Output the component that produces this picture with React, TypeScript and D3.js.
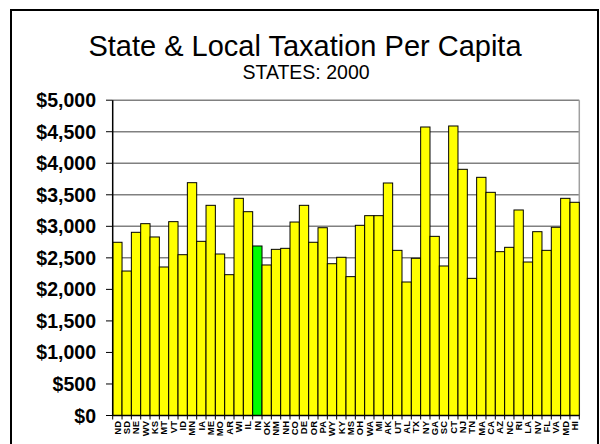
import React from "react";
import * as d3 from "d3";

const states = ["ND","SD","NE","WV","KS","MT","VT","ID","MN","IA","ME","MO","AR","WI","IL","IN","OK","NM","NH","CO","DE","OR","PA","WY","KY","MS","OH","WA","MI","AK","UT","AL","TX","NY","GA","SC","CT","NJ","TN","MA","CA","AZ","NC","RI","LA","NV","FL","VA","MD","HI"];
const taxPerCapita = [2747,2291,2905,3042,2831,2355,3074,2550,3692,2762,3333,2561,2233,3444,3232,2688,2387,2635,2651,3068,3333,2747,2978,2407,2509,2202,3016,3169,3169,3687,2619,2117,2493,4575,2841,2371,4591,3904,2175,3777,3539,2598,2667,3259,2434,2915,2619,2985,3444,3381];
const highlighted = ["IN"];
const yTicks = [0,500,1000,1500,2000,2500,3000,3500,4000,4500,5000];
const titleText = "State & Local Taxation Per Capita";
const subtitleText = "STATES: 2000";

const W = 600, H = 444;
const L = 112.7, R = 579.3, T = 100.2, B = 415.5;

export default function App() {
  const x = d3.scaleBand<string>().domain(states).range([L, R]).padding(0);
  const y = d3.scaleLinear().domain([0, 5000]).range([B, T]);
  const fmt = (v: number) => "$" + d3.format(",")(v);
  const font = "'Liberation Sans', Arial, sans-serif";
  return (
    <svg width={W} height={H} style={{ position: "fixed", left: 0, top: 0, background: "#fff" }} fontFamily={font}>
      <rect x={0} y={0} width={W} height={H} fill="#fff" />
      <rect x={11} y={10} width={587} height={460} fill="none" stroke="#000" strokeWidth={2} />
      <text x={305} y={56} textAnchor="middle" fontSize={29}>{titleText}</text>
      <text x={306} y={79} textAnchor="middle" fontSize={19.5}>{subtitleText}</text>
      {yTicks.filter(t => t > 0).map(t => (
        <line key={"g" + t} x1={L} x2={R} y1={y(t)} y2={y(t)} stroke="#808080" strokeWidth={1.5} />
      ))}
      <line x1={R} x2={R} y1={T} y2={B} stroke="#a0a0a0" strokeWidth={1.5} />
      {states.map((s, i) => (
        <rect key={s} x={x(s)!} y={y(taxPerCapita[i])} width={x.bandwidth()} height={B - y(taxPerCapita[i])}
          fill={highlighted.includes(s) ? "#00ff00" : "#ffff00"} stroke="#000" strokeWidth={1} />
      ))}
      <line x1={L} x2={L} y1={T} y2={B} stroke="#000" strokeWidth={1.5} />
      <line x1={L} x2={R} y1={B} y2={B} stroke="#000" strokeWidth={1.5} />
      {yTicks.map(t => (
        <g key={"t" + t}>
          <line x1={106} x2={L} y1={y(t)} y2={y(t)} stroke="#000" strokeWidth={1} />
          <text x={96} y={y(t)} dy="0.36em" textAnchor="end" fontSize={19.5} fontWeight="bold">{fmt(t)}</text>
        </g>
      ))}
      {states.map((s, i) => (
        <line key={"xt" + s} x1={x(s)!} x2={x(s)!} y1={B} y2={B + 4} stroke="#000" strokeWidth={1} />
      ))}
      <line x1={R} x2={R} y1={B} y2={B + 4} stroke="#000" strokeWidth={1} />
      {states.map(s => {
        const cx = x(s)! + x.bandwidth() / 2;
        return (
          <text key={"xl" + s} transform={`translate(${cx},${421}) rotate(-90)`} textAnchor="end" dy="0.35em"
            fontSize={9.5} fontWeight="bold">{s}</text>
        );
      })}
    </svg>
  );
}
